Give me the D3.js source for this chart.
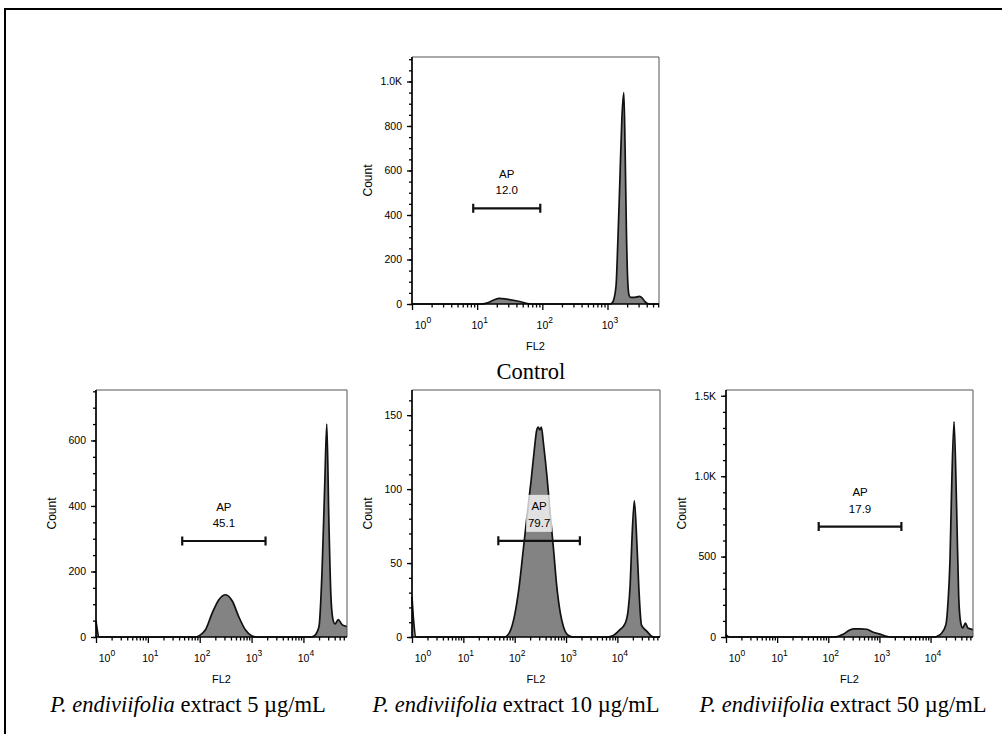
<!DOCTYPE html>
<html>
<head>
<meta charset="utf-8">
<script src="https://cdn.jsdelivr.net/npm/d3@7"></script>
<style>
  body { margin: 0; background: #fff; }
  svg { display: block; }
  .tick text { font-family: "Liberation Sans", Arial, sans-serif; }
</style>
</head>
<body>
<div id="chart"></div>
<script>
// FL2 channel value / event count pairs
var ctrlFL2 = [1, 11, 14, 18, 22, 28, 36, 48, 63, 79, 1100, 1200, 1350, 1445, 1550, 1660, 1780, 1860, 1950, 2040, 2140, 2240, 2630, 3090, 3390, 3720, 4370, 6170];
var ctrlCount = [0, 0, 4, 18, 25, 22, 17, 9, 1, 0, 0, 8, 79, 290, 560, 830, 950, 710, 330, 110, 40, 30, 30, 34, 28, 12, 0, 0];

var p5FL2 = [1, 1.05, 1.15, 79, 100, 129, 174, 234, 316, 427, 562, 759, 1000, 1260, 14100, 16600, 19950, 22900, 25700, 28200, 30900, 33900, 37150, 40700, 46800, 56200, 69200];
var p5Count = [50, 25, 0, 0, 5, 22, 73, 114, 129, 109, 63, 22, 4, 0, 0, 5, 32, 205, 460, 650, 358, 124, 53, 40, 53, 37, 32];

var p10FL2 = [1, 1.07, 1.2, 63, 79, 100, 120, 148, 178, 209, 240, 269, 288, 309, 331, 363, 427, 490, 575, 661, 776, 891, 1120, 1380, 6310, 8320, 11200, 14100, 16200, 17800, 19050, 21400, 24000, 26300, 29500, 37200, 50100, 67600];
var p10Count = [27, 12, 0, 0, 3, 15, 32, 60, 85, 106, 126, 140, 142, 140, 142, 131, 108, 84, 58, 34, 16, 7, 1, 0, 0, 1, 5, 9, 18, 36, 63, 92, 63, 32, 8, 4, 0, 0];

var p50FL2 = [1, 1.07, 1.15, 126, 158, 200, 251, 316, 417, 562, 759, 1020, 1260, 1660, 12000, 14100, 16200, 19950, 21900, 24000, 25700, 28800, 32400, 35500, 38900, 42700, 47900, 53700, 67600];
var p50Count = [15, 5, 0, 0, 5, 18, 40, 50, 51, 48, 30, 18, 8, 0, 0, 8, 22, 76, 211, 480, 894, 1339, 790, 252, 87, 56, 87, 56, 46];

// gates (AP region)
var gateName = 'AP';
var gatePct = ['12.0', '45.1', '79.7', '17.9'];
var gateLo = [8.7, 46, 48, 65];
var gateHi = [93, 1860, 1860, 2690];
var gateLevel = [430, 293, 65, 687];

// axes
var xMax = [6170, 69200, 67600, 67600];
var yMax = [1110, 754, 167, 1536];
var yMajor = [[0, 200, 400, 600, 800, 1000], [0, 200, 400, 600], [0, 50, 100, 150], [0, 500, 1000, 1500]];
var yLabels = [['0', '200', '400', '600', '800', '1.0K'], ['0', '200', '400', '600'], ['0', '50', '100', '150'], ['0', '500', '1.0K', '1.5K']];
var yMinorStep = [50, 50, 10, 100];
var xDecades = [1, 10, 100, 1000, 10000];
var xExp = ['0', '1', '2', '3', '4'];

var conc = ['5', '10', '50'];

// layout: [left, top, right, bottom] of each plot box
var boxes = [[412, 57, 659, 304], [96, 390, 347, 637], [412, 390, 660, 637], [726, 390, 973, 637]];
var captionX = [531, 188, 516, 843];

var series = [[ctrlFL2, ctrlCount], [p5FL2, p5Count], [p10FL2, p10Count], [p50FL2, p50Count]];

var sans = '"Liberation Sans", Arial, sans-serif';
var serif = '"Liberation Serif", "Times New Roman", serif';

var svg = d3.select('#chart')
    .append('svg')
    .attr('width', 1002)
    .attr('height', 734);

// outer frame
svg.append('rect')
    .attr('x', 5).attr('y', 9)
    .attr('width', 1010).attr('height', 740)
    .attr('fill', 'none')
    .attr('stroke', '#000')
    .attr('stroke-width', 2);

series.forEach(function (s, i) {
    var b = boxes[i];
    var x = d3.scaleLog().domain([1, xMax[i]]).range([b[0], b[2]]);
    var y = d3.scaleLinear().domain([0, yMax[i]]).range([b[3], b[1]]);
    var g = svg.append('g');

    var pts = s[0].map(function (v, j) { return [v, s[1][j]]; });

    var area = d3.area()
        .x(function (d) { return x(d[0]); })
        .y0(y(0))
        .y1(function (d) { return y(d[1]); })
        .curve(d3.curveMonotoneX);
    var line = d3.line()
        .x(function (d) { return x(d[0]); })
        .y(function (d) { return y(d[1]); })
        .curve(d3.curveMonotoneX);

    g.append('path').datum(pts)
        .attr('d', area)
        .attr('fill', '#838383');
    g.append('path').datum(pts)
        .attr('d', line)
        .attr('fill', 'none')
        .attr('stroke', '#111')
        .attr('stroke-width', 1.7)
        .attr('stroke-linejoin', 'round');

    // box: top/right light, left/bottom are the axes
    g.append('path')
        .attr('d', 'M' + b[0] + ',' + b[1] + 'H' + b[2] + 'V' + b[3])
        .attr('fill', 'none')
        .attr('stroke', '#555')
        .attr('stroke-width', 1);

    // y axis
    var yAx = g.append('g')
        .attr('transform', 'translate(' + b[0] + ',0)')
        .call(d3.axisLeft(y).tickValues(yMajor[i])
            .tickFormat(function (d, k) { return yLabels[i][k]; })
            .tickSize(5).tickPadding(5));
    yAx.append('g')
        .call(d3.axisLeft(y).tickValues(d3.range(0, yMax[i], yMinorStep[i]))
            .tickFormat('').tickSize(3));
    yAx.selectAll('.domain').remove();
    yAx.selectAll('line').attr('stroke', '#000').attr('stroke-width', 1.3);
    yAx.selectAll('text')
        .attr('font-size', 10.5)
        .attr('font-family', sans)
        .attr('fill', '#000');

    // x axis
    var majors = xDecades.filter(function (d) { return d <= xMax[i]; });
    var minors = [];
    majors.forEach(function (d) {
        for (var k = 2; k <= 9; k++) {
            if (d * k <= xMax[i]) minors.push(d * k);
        }
    });
    var xAx = g.append('g')
        .attr('transform', 'translate(0,' + b[3] + ')')
        .call(d3.axisBottom(x).tickValues(majors).tickFormat('').tickSize(6));
    xAx.append('g')
        .call(d3.axisBottom(x).tickValues(minors).tickFormat('').tickSize(3.5));
    xAx.selectAll('.domain').remove();
    xAx.selectAll('line').attr('stroke', '#000').attr('stroke-width', 1.3);

    majors.forEach(function (d, k) {
        var t = g.append('text')
            .attr('x', x(d) + (k === 0 ? 11 : 2.5))
            .attr('y', b[3] + 25)
            .attr('text-anchor', 'middle')
            .attr('font-family', sans)
            .attr('font-size', 10.5)
            .attr('fill', '#000')
            .text('10');
        t.append('tspan')
            .attr('dy', -6)
            .attr('font-size', 8.5)
            .text(xExp[k]);
    });

    // axis lines
    g.append('path')
        .attr('d', 'M' + b[0] + ',' + b[1] + 'V' + b[3] + 'H' + b[2])
        .attr('fill', 'none')
        .attr('stroke', '#000')
        .attr('stroke-width', 1.7);

    // axis titles
    g.append('text')
        .attr('x', (b[0] + b[2]) / 2)
        .attr('y', b[3] + 46)
        .attr('text-anchor', 'middle')
        .attr('font-family', sans)
        .attr('font-size', 11)
        .attr('fill', '#000')
        .text('FL2');
    g.append('text')
        .attr('transform', 'translate(' + (b[0] - 44) + ',' + ((b[1] + b[3]) / 2) + ') rotate(-90)')
        .attr('text-anchor', 'middle')
        .attr('dy', '0.35em')
        .attr('font-family', sans)
        .attr('font-size', 12)
        .attr('fill', '#000')
        .text('Count');

    // gate
    var gy = y(gateLevel[i]);
    var gx0 = x(gateLo[i]), gx1 = x(gateHi[i]);
    var gc = (gx0 + gx1) / 2;
    g.append('rect')
        .attr('x', gc - 13).attr('y', gy - 46)
        .attr('width', 26).attr('height', 37)
        .attr('fill', '#fff')
        .attr('fill-opacity', 0.76);
    g.append('path')
        .attr('d', 'M' + gx0 + ',' + gy + 'H' + gx1 +
                   'M' + gx0 + ',' + (gy - 4.5) + 'V' + (gy + 4.5) +
                   'M' + gx1 + ',' + (gy - 4.5) + 'V' + (gy + 4.5))
        .attr('fill', 'none')
        .attr('stroke', '#111')
        .attr('stroke-width', 2.2);
    g.append('text')
        .attr('x', gc).attr('y', gy - 30.5)
        .attr('text-anchor', 'middle')
        .attr('font-family', sans)
        .attr('font-size', 11.5)
        .attr('fill', '#000')
        .text(gateName);
    g.append('text')
        .attr('x', gc).attr('y', gy - 14)
        .attr('text-anchor', 'middle')
        .attr('font-family', sans)
        .attr('font-size', 11.5)
        .attr('fill', '#000')
        .text(gatePct[i]);

    // caption
    var cap = g.append('text')
        .attr('x', captionX[i])
        .attr('y', b[3] + 75)
        .attr('text-anchor', 'middle')
        .attr('font-family', serif)
        .attr('font-size', 22.5)
        .attr('fill', '#000');
    if (i === 0) {
        cap.text('Control');
    } else {
        cap.append('tspan').attr('font-style', 'italic').text('P. endiviifolia');
        cap.append('tspan').text(' extract ' + conc[i - 1] + ' \u00b5g/mL');
    }
});
</script>
</body>
</html>
